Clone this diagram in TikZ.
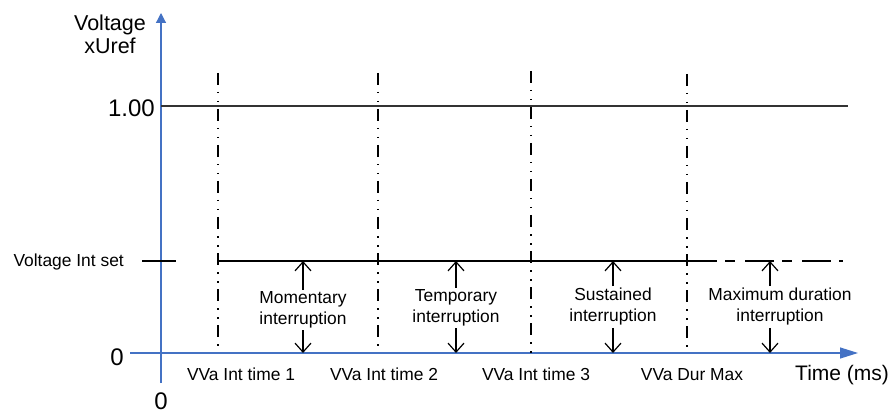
\documentclass[tikz,border=0pt]{standalone}
\usepackage{fontspec}
\setmainfont{Liberation Sans}
\usetikzlibrary{arrows.meta,positioning}
\definecolor{axisblue}{HTML}{4472C4}
\definecolor{darkline}{HTML}{333333}

\begin{document}
\begin{tikzpicture}[x=1pt, y=-1pt,
    axis/.style={axisblue, line width=1.2pt},
    bound/.style={line width=1.2pt, dash pattern=on 12pt off 7pt on 1.5pt off 7.5pt on 1.5pt off 6.5pt},
    level/.style={line width=1.3pt},
    gap/.style={-{Straight Barb[length=9pt,width=16pt]}, line width=1.2pt},
    lbl/.style={font=\fontsize{17.4}{21}\selectfont, inner sep=0pt},
    big/.style={font=\fontsize{24}{28}\selectfont, inner sep=0pt},
    span/.style={font=\fontsize{17.4}{21}\selectfont, align=center, inner sep=2pt}
  ]
    \useasboundingbox (0,0) rectangle (894,414);

    % axes
    \coordinate (xs) at (130,353);
    \coordinate (xe) at (858,353);
    \coordinate (ys) at (161,383);
    \coordinate (ye) at (161,13);
    \draw[axis, -{Triangle[length=18pt,width=11pt]}] (xs) -- (xe);
    \draw[axis, -{Triangle[length=10pt,width=10pt]}] (ys) -- (ye);

    \node[lbl, font=\fontsize{21.5}{24}\selectfont, anchor=base] (vlab) at (110,31) {Voltage};
    \node[lbl, font=\fontsize{21.5}{24}\selectfont, anchor=base] (ulab) at (110,54) {xUref};
    \node[big, anchor=base east] (one) at (155,117) {1.00};
    \node[big, anchor=base] (zy) at (117,365) {0};
    \node[big, anchor=base] (zx) at (161,409) {0};
    \node[lbl, anchor=base east] (setlab) at (124,266) {Voltage Int set};
    \node[lbl, font=\fontsize{21}{24}\selectfont, anchor=base west] (tlab) at (795,380) {Time (ms)};

    % levels
    \draw[darkline, line width=2.2pt] (161,106) -- (848,106);
    \draw[level] (142,261) -- (176,261);
    \draw[level] (218,261) -- (688,261);
    \draw[level, dash pattern=on 29pt off 8pt on 10pt off 10pt] (688,261) -- (843,261);

    % time bounds
    \coordinate (b1) at (218,73);
    \coordinate (b2) at (378,73);
    \coordinate (b3) at (531,71);
    \coordinate (b4) at (687,74);
    \draw[bound] (b1) -- (b1 |- xs);
    \draw[bound] (b2) -- (b2 |- xs);
    \draw[bound] (b3) -- (b3 |- xs);
    \draw[bound] (b4) -- (b4 |- xs);

    \node[lbl, anchor=base] (t1) at (241,380) {VVa Int time 1};
    \node[lbl, anchor=base] (t2) at (384,380) {VVa Int time 2};
    \node[lbl, anchor=base] (t3) at (536,380) {VVa Int time 3};
    \node[lbl, anchor=base] (t4) at (692,380) {VVa Dur Max};

    % interruption spans
    \node[span] (mom) at (303,310) {Momentary\\interruption};
    \node[span] (tmp) at (456,308) {Temporary\\interruption};
    \node[span] (sus) at (613,307) {Sustained\\interruption};
    \node[span] (mxd) at (780,307) {Maximum duration\\interruption};

    \coordinate (u1) at (303,261);
    \coordinate (u2) at (456,261);
    \coordinate (u3) at (613,261);
    \coordinate (u4) at (770,261);

    \draw[gap] (mom.north -| u1) -- (u1);
    \draw[gap] (mom.south -| u1) -- (u1 |- xs);
    \draw[gap] (tmp.north -| u2) -- (u2);
    \draw[gap] (tmp.south -| u2) -- (u2 |- xs);
    \draw[gap] (sus.north -| u3) -- (u3);
    \draw[gap] (sus.south -| u3) -- (u3 |- xs);
    \draw[gap] (mxd.north -| u4) -- (u4);
    \draw[gap] (mxd.south -| u4) -- (u4 |- xs);
\end{tikzpicture}
\end{document}
